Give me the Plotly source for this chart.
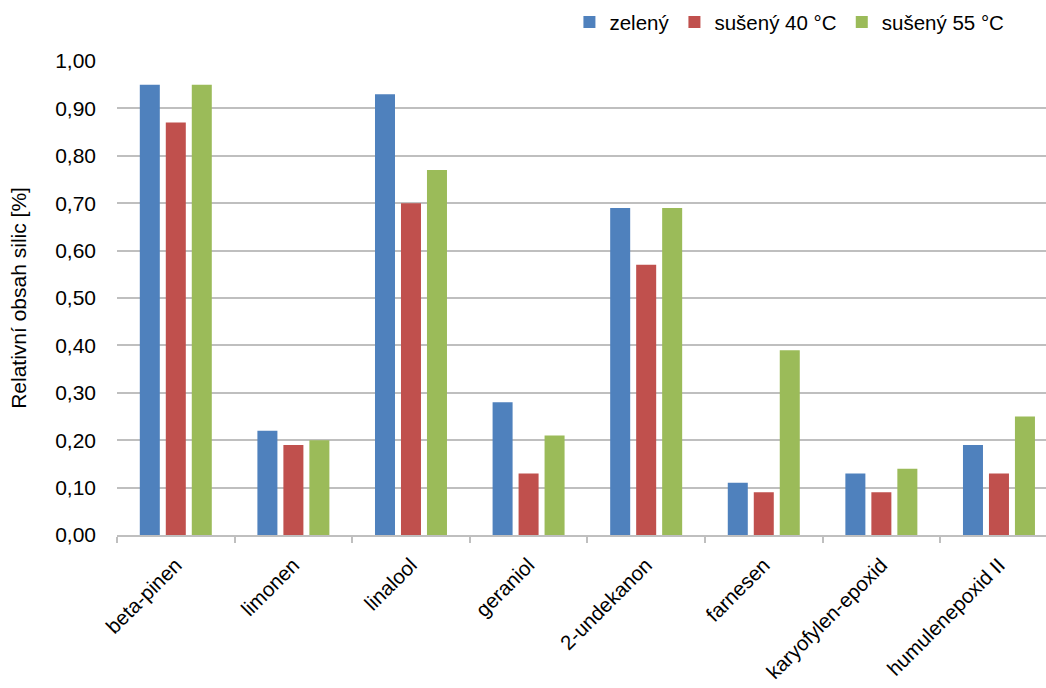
import plotly.graph_objects as go

categories = ["beta-pinen", "limonen", "linalool", "geraniol", "2-undekanon",
              "farnesen", "karyofylen-epoxid", "humulenepoxid II"]
zeleny = [0.95, 0.22, 0.93, 0.28, 0.69, 0.11, 0.13, 0.19]
suseny40 = [0.87, 0.19, 0.70, 0.13, 0.57, 0.09, 0.09, 0.13]
suseny55 = [0.95, 0.20, 0.77, 0.21, 0.69, 0.39, 0.14, 0.25]
series_names = ["zelený", "sušený 40 °C", "sušený 55 °C"]
colors = ["#4F81BD", "#C0504D", "#9BBB59"]
y_ticks = [0.0, 0.1, 0.2, 0.3, 0.4, 0.5, 0.6, 0.7, 0.8, 0.9, 1.0]

FONT = "Liberation Sans, Arial, sans-serif"

fig = go.Figure()
for name, vals, col in zip(series_names, [zeleny, suseny40, suseny55], colors):
    fig.add_trace(go.Bar(x=categories, y=vals, name=name,
                         marker=dict(color=col, line=dict(width=0))))

fig.update_layout(
    width=1046, height=688,
    margin=dict(l=117, r=0, t=61, b=153),
    paper_bgcolor="white", plot_bgcolor="white",
    barmode="group", bargap=0.337, bargroupgap=0.23,
    separators=", ",
    font=dict(family=FONT, size=20, color="#000000"),
    legend=dict(orientation="h", x=0.487, xanchor="left", y=1.082, yanchor="middle",
                font=dict(family=FONT, size=20.5, color="#000000"),
                bgcolor="rgba(0,0,0,0)", traceorder="normal"),
    xaxis=dict(range=[-0.5, 7.4], tickangle=-45, showgrid=False,
               showline=True, linecolor="#BFBFBF", linewidth=2,
               ticks="outside", tickson="boundaries", ticklen=6, tickcolor="#BFBFBF",
               tickwidth=2, ticklabelstandoff=8,
               tickfont=dict(family=FONT, size=20.5, color="#000000")),
    yaxis=dict(range=[0, 1.0], tickvals=y_ticks, tickformat=".2f",
               showgrid=True, gridcolor="#BFBFBF", gridwidth=1.5,
               showline=False, zeroline=False, ticks="",
               ticklabelstandoff=20,
               tickfont=dict(family=FONT, size=21, color="#000000"),
               title=dict(text="Relativní obsah silic [%]", standoff=22,
                          font=dict(family=FONT, size=21, color="#000000"))),
)

fig.write_html("out.html")
